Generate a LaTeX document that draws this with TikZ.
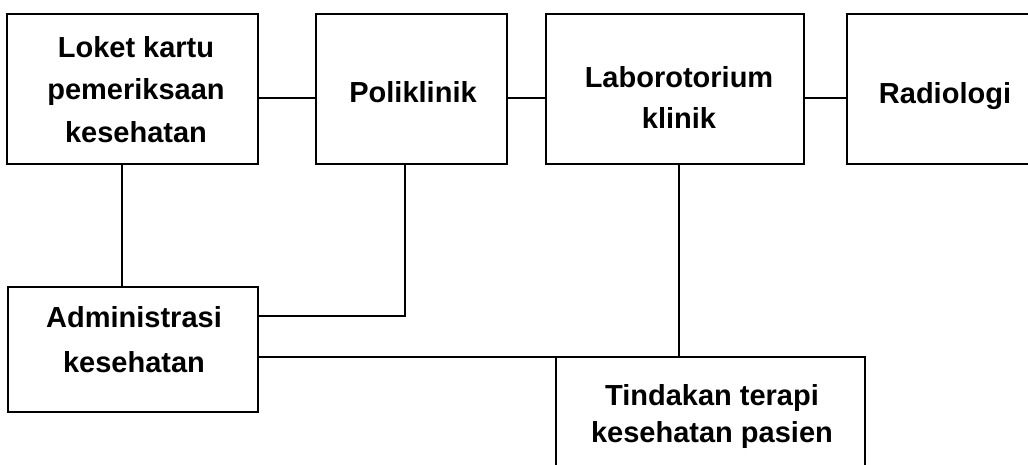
\documentclass[tikz,border=0pt]{standalone}
\usepackage{fontspec}
\setmainfont{Liberation Sans}
\newcommand\firstln{\rule{0pt}{21.75pt}}
\begin{document}
\begin{tikzpicture}[x=1pt,y=-1pt,
  box/.style={draw=black, line width=2pt, rectangle, inner sep=0pt, outer sep=0pt},
  wire/.style={draw=black, line width=2pt},
  txt/.style={anchor=north, inner sep=0pt, align=center, text=black}]
\useasboundingbox (0,0) rectangle (1028,465);
\clip (0,0) rectangle (1028,465);
\fill[white] (0,0) rectangle (1028,465);
% boxes
\node[box, minimum width=251pt, minimum height=150pt] (loket) at (132.5,89) {};
\node[box, minimum width=191pt, minimum height=150pt] (poli)  at (411.5,89) {};
\node[box, minimum width=258pt, minimum height=150pt] (lab)   at (675,89) {};
\node[box, minimum width=213pt, minimum height=150pt] (radio) at (953.5,89) {};
\node[box, minimum width=250pt, minimum height=125pt] (admin) at (133,349.5) {};
\node[box, minimum width=309pt, minimum height=133pt] (tind)  at (710.5,423.5) {};
% texts
\node[txt, font=\fontsize{29}{42.5}\selectfont\bfseries] (loketT) at (136,35.25)
  {\firstln Loket kartu\\pemeriksaan\\kesehatan};
\node[txt, font=\fontsize{29}{35}\selectfont\bfseries] (poliT) at (413,80.25)
  {\firstln Poliklinik};
\node[txt, font=\fontsize{29}{41}\selectfont\bfseries] (labT) at (679,65.25)
  {\firstln Laborotorium\\klinik};
\node[txt, font=\fontsize{29}{35}\selectfont\bfseries] (radioT) at (945,81.25)
  {\firstln Radiologi};
\node[txt, font=\fontsize{29}{45}\selectfont\bfseries] (adminT) at (134,305.25)
  {\firstln Administrasi\\kesehatan};
\node[txt, font=\fontsize{29}{37}\selectfont\bfseries] (tindT) at (712,383.25)
  {\firstln Tindakan terapi\\kesehatan pasien};
% connectors
\draw[wire] ([yshift=-9pt]loket.east) -- ([yshift=-9pt]poli.west);
\draw[wire] ([yshift=-9pt]poli.east) -- ([yshift=-9pt]lab.west);
\draw[wire] ([yshift=-9pt]lab.east) -- ([yshift=-9pt]radio.west);
\draw[wire] ([xshift=-10.5pt]loket.south) -- ([xshift=-10.5pt]loket.south |- admin.north);
\draw[wire] ([xshift=-6.5pt]poli.south) |- ([yshift=33.5pt]admin.east);
\coordinate (j) at ([xshift=4pt]lab.south |- tind.north);
\draw[wire] ([yshift=-7.5pt]admin.east) -- (j);
\draw[wire] ([xshift=4pt]lab.south) -- (j);
\end{tikzpicture}
\end{document}
